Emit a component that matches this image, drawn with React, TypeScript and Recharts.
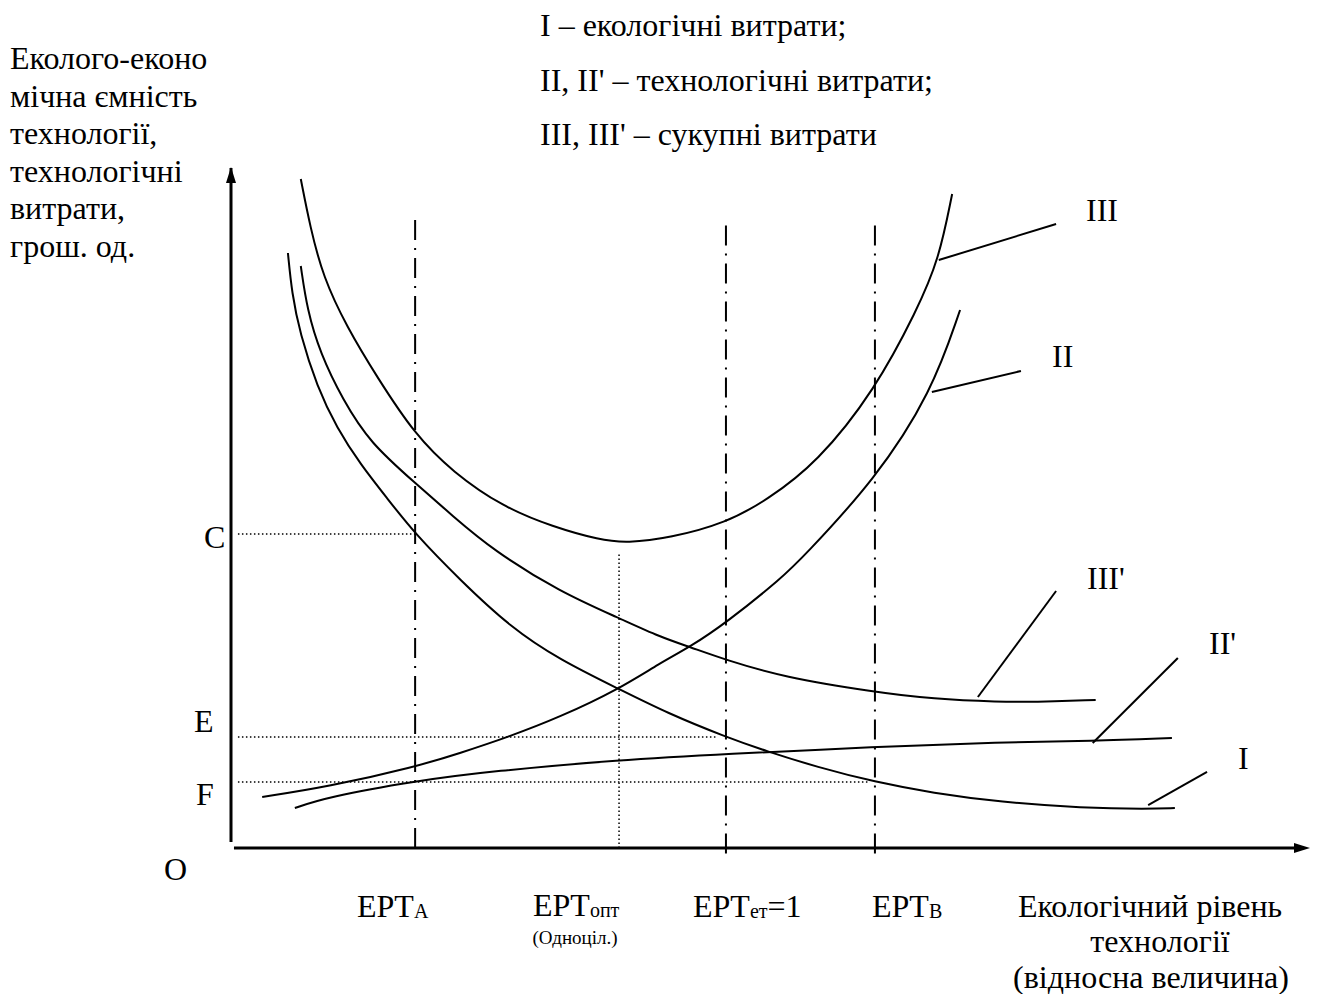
import React from "react";
import {
  ComposedChart,
  Line,
  XAxis,
  YAxis,
  ReferenceLine,
  ReferenceDot,
} from "recharts";

// x: ecological level of technology (EPT_ет = 1), y: costs, money units
const X_MAX = 2.18;
const Y_MAX = 10;

const EPT_A = 0.372;
const EPT_OPT = 0.784;
const EPT_ET = 1.0;
const EPT_B = 1.301;

const LEVEL_C = 4.618;
const LEVEL_E = 1.632;
const LEVEL_F = 0.971;

// III – total costs
const totalCosts = [
  { x: 0.141, y: 9.838 },
  { x: 0.16, y: 9.132 },
  { x: 0.186, y: 8.397 },
  { x: 0.234, y: 7.662 },
  { x: 0.295, y: 6.926 },
  { x: 0.372, y: 6.074 },
  { x: 0.448, y: 5.529 },
  { x: 0.549, y: 5.015 },
  { x: 0.651, y: 4.721 },
  { x: 0.745, y: 4.529 },
  { x: 0.8, y: 4.485 },
  { x: 0.887, y: 4.559 },
  { x: 1.0, y: 4.779 },
  { x: 1.083, y: 5.118 },
  { x: 1.184, y: 5.662 },
  { x: 1.301, y: 6.735 },
  { x: 1.386, y: 7.912 },
  { x: 1.43, y: 8.647 },
  { x: 1.457, y: 9.618 },
];

// I – ecological costs
const ecoCosts = [
  { x: 0.115, y: 8.75 },
  { x: 0.123, y: 8.162 },
  { x: 0.139, y: 7.574 },
  { x: 0.174, y: 6.779 },
  { x: 0.214, y: 6.176 },
  { x: 0.261, y: 5.647 },
  { x: 0.315, y: 5.147 },
  { x: 0.372, y: 4.618 },
  { x: 0.463, y: 3.941 },
  { x: 0.564, y: 3.25 },
  { x: 0.665, y: 2.765 },
  { x: 0.784, y: 2.338 },
  { x: 0.881, y: 1.985 },
  { x: 1.0, y: 1.632 },
  { x: 1.081, y: 1.426 },
  { x: 1.184, y: 1.191 },
  { x: 1.301, y: 0.971 },
  { x: 1.418, y: 0.809 },
  { x: 1.554, y: 0.676 },
  { x: 1.721, y: 0.588 },
  { x: 1.853, y: 0.574 },
  { x: 1.907, y: 0.588 },
];

// II – technological costs
const techCosts = [
  { x: 0.063, y: 0.75 },
  { x: 0.194, y: 0.897 },
  { x: 0.372, y: 1.191 },
  { x: 0.463, y: 1.397 },
  { x: 0.56, y: 1.632 },
  { x: 0.665, y: 1.926 },
  { x: 0.784, y: 2.338 },
  { x: 0.867, y: 2.721 },
  { x: 0.927, y: 2.956 },
  { x: 1.0, y: 3.309 },
  { x: 1.115, y: 3.985 },
  { x: 1.154, y: 4.265 },
  { x: 1.301, y: 5.412 },
  { x: 1.416, y: 6.706 },
  { x: 1.473, y: 7.912 },
];

// III' – total costs (second variant)
const totalCosts2 = [
  { x: 0.141, y: 8.559 },
  { x: 0.154, y: 7.912 },
  { x: 0.18, y: 7.279 },
  { x: 0.226, y: 6.588 },
  { x: 0.281, y: 5.956 },
  { x: 0.372, y: 5.368 },
  { x: 0.448, y: 4.882 },
  { x: 0.529, y: 4.382 },
  { x: 0.665, y: 3.765 },
  { x: 0.784, y: 3.382 },
  { x: 0.867, y: 3.103 },
  { x: 0.927, y: 2.956 },
  { x: 1.0, y: 2.765 },
  { x: 1.115, y: 2.515 },
  { x: 1.301, y: 2.294 },
  { x: 1.418, y: 2.191 },
  { x: 1.554, y: 2.147 },
  { x: 1.62, y: 2.147 },
  { x: 1.747, y: 2.176 },
];

// II' – technological costs (second variant)
const techCosts2 = [
  { x: 0.129, y: 0.588 },
  { x: 0.194, y: 0.75 },
  { x: 0.372, y: 0.985 },
  { x: 0.529, y: 1.132 },
  { x: 0.784, y: 1.294 },
  { x: 1.0, y: 1.382 },
  { x: 1.301, y: 1.485 },
  { x: 1.554, y: 1.559 },
  { x: 1.741, y: 1.574 },
  { x: 1.901, y: 1.618 },
];

// leader lines from a curve to its label
const leaders = [
  { from: { x: 1.43, y: 8.647 }, to: { x: 1.667, y: 9.176 } },
  { from: { x: 1.416, y: 6.706 }, to: { x: 1.596, y: 7.015 } },
  { from: { x: 1.509, y: 2.221 }, to: { x: 1.667, y: 3.779 } },
  { from: { x: 1.741, y: 1.544 }, to: { x: 1.913, y: 2.794 } },
  { from: { x: 1.853, y: 0.632 }, to: { x: 1.972, y: 1.118 } },
];

const legendLines = [
  "I – екологічні витрати;",
  "II, II' – технологічні витрати;",
  "III, III' – сукупні витрати",
];

const yTitleLines = [
  "Еколого-еконо",
  "мічна ємність",
  "технології,",
  "технологічні",
  "витрати,",
  "грош. од.",
];

const xTitleLines = ["Екологічний рівень", "технології", "(відносна величина)"];

const FONT = "'Liberation Serif', 'Times New Roman', serif";
const DASH_DOT = "20 8 2 8";
const DOTTED = "1.5 2.5";

function ArrowRight(props: any) {
  const { cx, cy } = props;
  return <polygon points={`${cx},${cy} ${cx - 16},${cy - 5} ${cx - 16},${cy + 5}`} fill="#000" />;
}

function ArrowUp(props: any) {
  const { cx, cy } = props;
  return <polygon points={`${cx},${cy - 1} ${cx - 5},${cy + 15} ${cx + 5},${cy + 15}`} fill="#000" />;
}

const curveProps = {
  type: "basis" as const,
  dataKey: "y",
  stroke: "#000",
  strokeWidth: 2,
  dot: false,
  activeDot: false,
  isAnimationActive: false,
  legendType: "none" as const,
};

export default function App() {
  return (
    <div style={{ position: "absolute", left: 0, top: 0, width: 1320, height: 994, background: "#fff" }}>
      <ComposedChart
        width={1320}
        height={994}
        margin={{ top: 168, right: 10, bottom: 146, left: 231 }}
        style={{ position: "absolute", left: 0, top: 0 }}
      >
        <XAxis type="number" dataKey="x" domain={[0, X_MAX]} allowDataOverflow hide />
        <YAxis type="number" domain={[0, Y_MAX]} allowDataOverflow hide />

        {/* axes */}
        <ReferenceLine
          segment={[{ x: 0, y: 0.09 }, { x: 0, y: Y_MAX }]}
          stroke="#000"
          strokeWidth={3}
          ifOverflow="visible"
        />
        <ReferenceLine
          segment={[{ x: 0.006, y: 0 }, { x: X_MAX - 0.02, y: 0 }]}
          stroke="#000"
          strokeWidth={3}
          ifOverflow="visible"
        />
        <ReferenceDot x={X_MAX} y={0} r={0} shape={<ArrowRight />} ifOverflow="visible" />
        <ReferenceDot x={0} y={Y_MAX} r={0} shape={<ArrowUp />} ifOverflow="visible" />

        {/* EPT levels */}
        <ReferenceLine segment={[{ x: EPT_A, y: 0 }, { x: EPT_A, y: 9.309 }]} stroke="#000" strokeWidth={2} strokeDasharray={DASH_DOT} ifOverflow="visible" />
        <ReferenceLine segment={[{ x: EPT_ET, y: -0.08 }, { x: EPT_ET, y: 9.191 }]} stroke="#000" strokeWidth={2} strokeDasharray={DASH_DOT} ifOverflow="visible" />
        <ReferenceLine segment={[{ x: EPT_B, y: -0.08 }, { x: EPT_B, y: 9.191 }]} stroke="#000" strokeWidth={2} strokeDasharray={DASH_DOT} ifOverflow="visible" />
        <ReferenceLine segment={[{ x: EPT_OPT, y: 0 }, { x: EPT_OPT, y: 4.338 }]} stroke="#000" strokeWidth={1.5} strokeDasharray={DOTTED} ifOverflow="visible" />

        {/* C, E, F levels */}
        <ReferenceLine segment={[{ x: 0.014, y: LEVEL_C }, { x: EPT_A, y: LEVEL_C }]} stroke="#000" strokeWidth={1.5} strokeDasharray={DOTTED} ifOverflow="visible" />
        <ReferenceLine segment={[{ x: 0.014, y: LEVEL_E }, { x: 0.982, y: LEVEL_E }]} stroke="#000" strokeWidth={1.5} strokeDasharray={DOTTED} ifOverflow="visible" />
        <ReferenceLine segment={[{ x: 0.014, y: LEVEL_F }, { x: 1.291, y: LEVEL_F }]} stroke="#000" strokeWidth={1.5} strokeDasharray={DOTTED} ifOverflow="visible" />

        <Line {...curveProps} data={totalCosts} name="III" />
        <Line {...curveProps} data={ecoCosts} name="I" />
        <Line {...curveProps} data={techCosts} name="II" />
        <Line {...curveProps} data={totalCosts2} name="III'" />
        <Line {...curveProps} data={techCosts2} name="II'" />

        {leaders.map((l, i) => (
          <ReferenceLine key={i} segment={[l.from, l.to]} stroke="#000" strokeWidth={2} ifOverflow="visible" />
        ))}
      </ComposedChart>

      <svg
        width={1320}
        height={994}
        style={{ position: "absolute", left: 0, top: 0, pointerEvents: "none" }}
        fontFamily={FONT}
        fontSize={32}
        fill="#000"
      >
        {legendLines.map((t, i) => (
          <text key={t} x={540} y={36 + i * 54.5}>{t}</text>
        ))}
        {yTitleLines.map((t, i) => (
          <text key={t} x={10} y={69 + i * 37.5}>{t}</text>
        ))}

        <text x={204} y={548}>C</text>
        <text x={194} y={732}>E</text>
        <text x={196} y={805}>F</text>
        <text x={164} y={880}>O</text>

        <text x={1086} y={221}>III</text>
        <text x={1052} y={367}>II</text>
        <text x={1087} y={589}>III'</text>
        <text x={1209} y={654}>II'</text>
        <text x={1238} y={769}>I</text>

        <text x={357} y={917}>
          EPT<tspan fontSize={20} dy={1}>A</tspan>
        </text>
        <text x={533} y={916}>
          EPT<tspan fontSize={20} dy={1}>опт</tspan>
        </text>
        <text x={575} y={944} fontSize={19} textAnchor="middle">(Одноціл.)</text>
        <text x={693} y={917}>
          EPT<tspan fontSize={20} dy={1}>ет</tspan><tspan dy={-1}>=1</tspan>
        </text>
        <text x={872} y={917}>
          EPT<tspan fontSize={20} dy={1}>B</tspan>
        </text>

        <text x={1150} y={917} textAnchor="middle">{xTitleLines[0]}</text>
        <text x={1160} y={952} textAnchor="middle">{xTitleLines[1]}</text>
        <text x={1151} y={988} textAnchor="middle">{xTitleLines[2]}</text>
      </svg>
    </div>
  );
}
